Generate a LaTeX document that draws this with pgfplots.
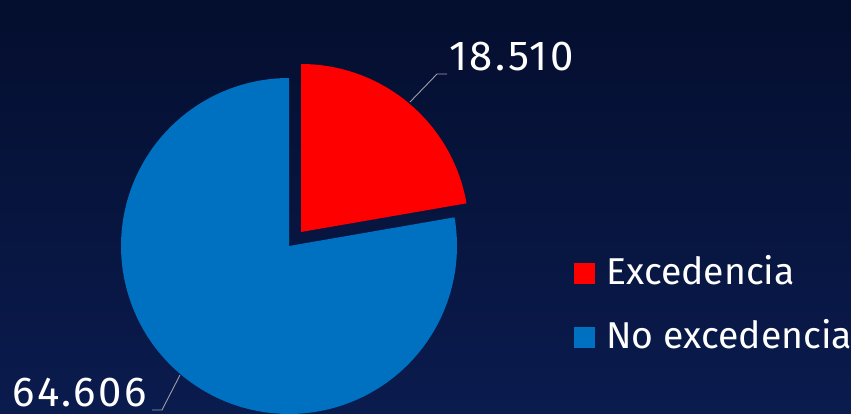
\documentclass[border=0pt]{standalone}
\usepackage{pgfplots}
\pgfplotsset{compat=1.18}
\usepackage{fontspec}
\setmainfont{Fira Sans}
\newfontfamily\numfont[LetterSpace=6]{Fira Sans}
\definecolor{bgtop}{HTML}{040E2E}
\definecolor{bgbot}{HTML}{0A1B4E}
\definecolor{pieRed}{HTML}{FF0000}
\definecolor{pieBlue}{HTML}{0070C0}
\definecolor{leader}{HTML}{9CA0AA}
% values
\def\vExc{18.510}
\def\vNoExc{64.606}
\begin{document}
\begin{tikzpicture}
\path[use as bounding box] (0,0) rectangle (851bp,414bp);
\pgfmathsetmacro{\total}{\vExc+\vNoExc}
\pgfmathsetmacro{\redEnd}{90-360*\vExc/\total}
\pgfmathsetmacro{\blueEnd}{360+\redEnd}
\begin{axis}[
  x=1bp, y=1bp, scale only axis,
  xmin=0, xmax=851, ymin=0, ymax=414,
  axis lines=none, clip=false,
]
\shade[top color=bgtop, bottom color=bgbot] (axis cs:0,0) rectangle (axis cs:851,414);
% blue wedge (No excedencia)
\addplot[fill=pieBlue, draw=none, domain=90:\blueEnd, samples=120, variable=\t]
  ({289+168*cos(t)}, {168+168*sin(t)}) -- (axis cs:289,168) -- cycle;
% red wedge (Excedencia), exploded
\addplot[fill=pieRed, draw=none, domain=\redEnd:90, samples=60, variable=\t]
  ({301+168*cos(t)}, {182+168*sin(t)}) -- (axis cs:301,182) -- cycle;
% leader lines
\addplot[leader, line width=0.9bp] coordinates {(410,312) (437,340) (447,340)};
\addplot[leader, line width=0.9bp] coordinates {(180,39) (162,4) (152,4)};
% data labels
\node[anchor=base west, inner sep=0, text=white, font=\numfont\fontsize{42}{46}\selectfont] at (axis cs:449,344) {18.510};
\node[anchor=base west, inner sep=0, text=white, font=\numfont\fontsize{42}{46}\selectfont] at (axis cs:12,8) {64.606};
% legend
\fill[pieRed] (axis cs:574,130) rectangle (axis cs:595,151);
\node[anchor=base west, inner sep=0, text=white, font=\fontsize{37.5}{41}\selectfont] at (axis cs:606,130) {Excedencia};
\fill[pieBlue] (axis cs:574,66) rectangle (axis cs:595,87);
\node[anchor=base west, inner sep=0, text=white, font=\fontsize{37.5}{41}\selectfont] at (axis cs:606,66) {No excedencia};
\end{axis}
\end{tikzpicture}
\end{document}
